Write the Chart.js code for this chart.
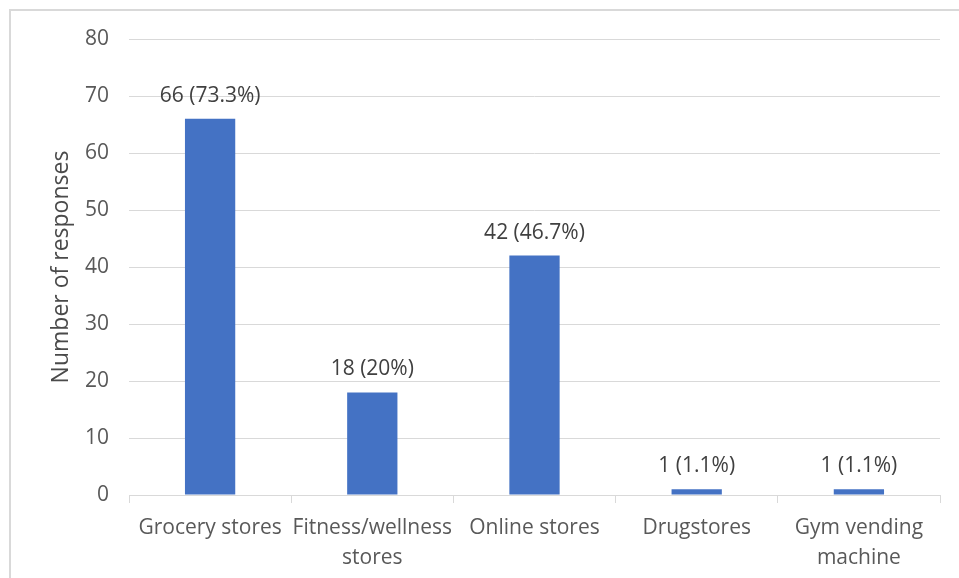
<!DOCTYPE html>
<html>
<head>
<meta charset="utf-8">
<script src="https://cdn.jsdelivr.net/npm/chart.js@4"></script>
<style>
  html, body { margin: 0; padding: 0; background: #fff; }
  canvas { display: block; }
</style>
</head>
<body>
<canvas id="myChart" width="959" height="578"></canvas>
<script>
const categories = ['Grocery stores', ['Fitness/wellness', 'stores'], 'Online stores', 'Drugstores', ['Gym vending', 'machine']];
const responses = [66, 18, 42, 1, 1];
const shares = ['73.3%', '20%', '46.7%', '1.1%', '1.1%'];
const yTicks = [0, 10, 20, 30, 40, 50, 60, 70, 80];

const fontFamily = '"Open Sans", "Noto Sans", sans-serif';
const textGrey = '#595959';
const lineGrey = '#d9d9d9';

// light frame round the chart and a white background
const framePlugin = {
  id: 'frame',
  beforeDraw(chart) {
    const c = chart.ctx;
    c.save();
    c.fillStyle = '#fff';
    c.fillRect(0, 0, chart.width, chart.height);
    c.strokeStyle = lineGrey;
    c.lineWidth = 2;
    c.beginPath();
    c.moveTo(10, chart.height);
    c.lineTo(10, 10);
    c.lineTo(chart.width, 10);
    c.stroke();
    c.restore();
  }
};

// "count (share)" above each bar
const valueLabels = {
  id: 'valueLabels',
  afterDatasetsDraw(chart) {
    const c = chart.ctx;
    const meta = chart.getDatasetMeta(0);
    c.save();
    c.font = '21px ' + fontFamily;
    c.fillStyle = '#404040';
    c.textAlign = 'center';
    c.textBaseline = 'middle';
    meta.data.forEach((bar, i) => {
      c.fillText(responses[i] + ' (' + shares[i] + ')', bar.x, bar.y - 23);
    });
    c.restore();
  }
};

new Chart(document.getElementById('myChart'), {
  type: 'bar',
  data: {
    labels: categories,
    datasets: [{
      data: responses,
      backgroundColor: '#4472C4',
      barPercentage: 0.31,
      categoryPercentage: 1
    }]
  },
  plugins: [framePlugin, valueLabels],
  options: {
    responsive: false,
    animation: false,
    layout: { padding: { top: 39, right: 19, left: 0, bottom: 0 } },
    plugins: {
      legend: { display: false },
      tooltip: { enabled: false }
    },
    scales: {
      x: {
        grid: {
          drawOnChartArea: false,
          drawTicks: true,
          tickLength: 8,
          color: lineGrey
        },
        border: { color: lineGrey, width: 1 },
        ticks: {
          color: textGrey,
          padding: 10,
          maxRotation: 0,
          autoSkip: false,
          font: { family: fontFamily, size: 21, lineHeight: '30px' }
        },
        afterFit(scale) { scale.height = 83; }
      },
      y: {
        min: 0,
        max: 80,
        afterBuildTicks(scale) { scale.ticks = yTicks.map(v => ({ value: v })); },
        grid: { color: lineGrey, drawTicks: false },
        border: { display: false },
        ticks: {
          color: textGrey,
          padding: 20,
          font: { family: fontFamily, size: 21 }
        },
        title: {
          display: true,
          text: 'Number of responses',
          color: '#4a4a4a',
          padding: { top: 48, bottom: 0 },
          font: { family: fontFamily, size: 23 }
        },
        afterFit(scale) { scale.width = 129; }
      }
    }
  }
});
</script>
</body>
</html>
